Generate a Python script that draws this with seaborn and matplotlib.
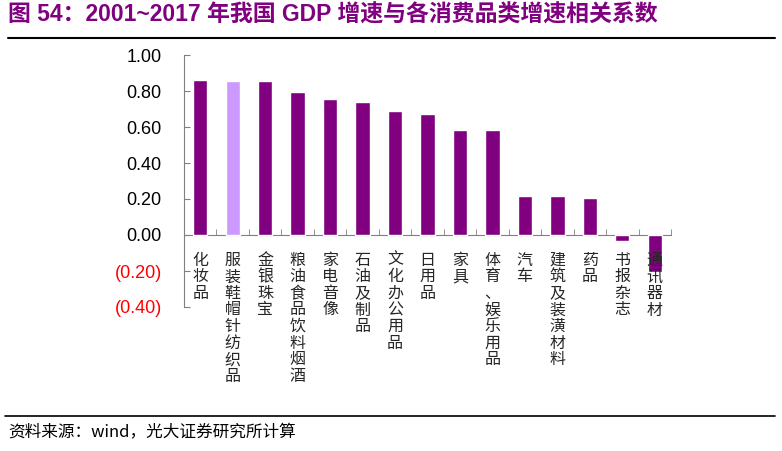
import matplotlib
matplotlib.use("Agg")
import matplotlib.pyplot as plt
import seaborn as sns
import pandas as pd
from matplotlib.lines import Line2D
from matplotlib.ticker import FixedLocator

sns.set_style("white")
plt.rcParams['font.family'] = ['Liberation Sans', 'Noto Sans CJK SC', 'DejaVu Sans']

categories = ["化妆品", "服装鞋帽针纺织品", "金银珠宝", "粮油食品饮料烟酒", "家电音像",
              "石油及制品", "文化办公用品", "日用品", "家具", "体育、娱乐用品",
              "汽车", "建筑及装潢材料", "药品", "书报杂志", "通讯器材"]
values = [0.86, 0.855, 0.855, 0.795, 0.755, 0.74, 0.69, 0.672, 0.583, 0.583,
          0.217, 0.217, 0.206, -0.033, -0.204]
bar_colors = ["#800080", "#CC99FF"] + ["#800080"] * 13
y_ticks = [1.0, 0.8, 0.6, 0.4, 0.2, 0.0, -0.2, -0.4]
y_ticklabels = ["1.00", "0.80", "0.60", "0.40", "0.20", "0.00", "(0.20)", "(0.40)"]

df = pd.DataFrame({"cat": categories, "val": values})

fig = plt.figure(figsize=(7.82, 4.51), dpi=100)
ax = fig.add_axes([184 / 782, 1 - 307 / 451, (671 - 184) / 782, (307 - 55) / 451])

sns.barplot(data=df, x="cat", y="val", hue="cat", palette=bar_colors, order=categories,
            hue_order=categories, legend=False, width=0.44, ax=ax, saturation=1)

ax.set_xlim(-0.5, len(categories) - 0.5)
ax.set_ylim(-0.4, 1.0)
ax.set_xlabel("")
ax.set_ylabel("")

for s in ["top", "right"]:
    ax.spines[s].set_visible(False)
ax.spines["bottom"].set_position(("data", 0))
ax.spines["bottom"].set_color("#808080")
ax.spines["left"].set_color("#808080")
ax.spines["bottom"].set_zorder(0)

ax.set_yticks(y_ticks)
ax.set_yticklabels(y_ticklabels, fontsize=13, family=['Liberation Sans'])
for lab, v in zip(ax.get_yticklabels(), y_ticks):
    lab.set_color("#FF0000" if v < 0 else "#000000")
ax.tick_params(axis="y", direction="in", length=4, color="#808080", pad=16, left=True)

ax.set_xticks(range(len(categories)))
ax.set_xticklabels(["\n".join(c) for c in categories], fontsize=11.5,
                   family=['Noto Sans CJK SC', 'DejaVu Sans'], linespacing=0.97)
ax.tick_params(axis="x", which="major", length=0, pad=12, bottom=True)
ax.xaxis.set_minor_locator(FixedLocator([i + 0.5 for i in range(-1, len(categories))]))
ax.tick_params(axis="x", which="minor", direction="in", length=4, color="#808080",
               bottom=True)
for lab in ax.get_xticklabels():
    lab.set_verticalalignment("top")
ax.xaxis.set_zorder(10)

fig.text(8 / 782, 1 - 15 / 451, "图 54：2001~2017 年我国 GDP 增速与各消费品类增速相关系数",
         fontsize=16.5, fontweight="bold", color="#800080", va="center", ha="left",
         family=['Liberation Sans', 'Noto Sans CJK SC'])
fig.add_artist(Line2D([8 / 782, 775 / 782], [1 - 38 / 451, 1 - 38 / 451],
                      color="black", lw=1.5, transform=fig.transFigure))
fig.add_artist(Line2D([5 / 782, 775 / 782], [1 - 416 / 451, 1 - 416 / 451],
                      color="black", lw=1.2, transform=fig.transFigure))
fig.text(8 / 782, 1 - 433 / 451, "资料来源：wind，光大证券研究所计算", fontsize=12,
         color="black", va="center", ha="left",
         family=['Noto Sans CJK SC', 'DejaVu Sans'])

fig.savefig("out.png", dpi=100)
